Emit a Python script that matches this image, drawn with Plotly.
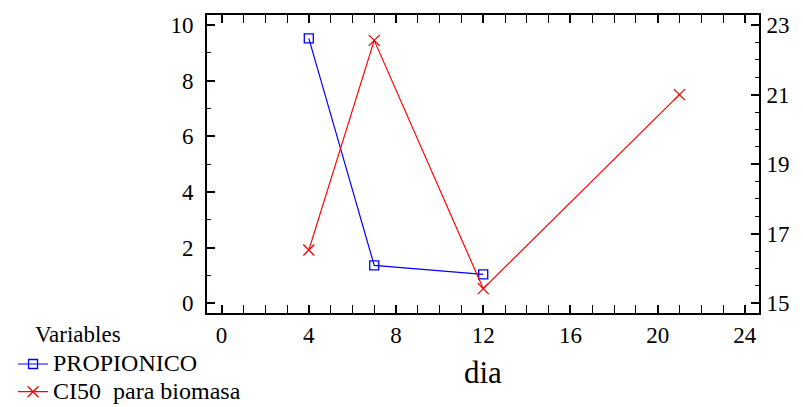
import plotly.graph_objects as go

dia = [4, 7, 12]
propionico = [9.52, 1.36, 1.04]
dia_ci = [4, 7, 12, 21]
ci50 = [16.53, 22.56, 15.42, 21.0]

x_ticks = [0, 4, 8, 12, 16, 20, 24]
y1_ticks = [0, 2, 4, 6, 8, 10]
y2_ticks = [15, 17, 19, 21, 23]

series_names = ["PROPIONICO", "CI50  para biomasa"]
x_title = "dia"
legend_title = "Variables"

FONT = "Times New Roman"
TICKFONT = dict(family=FONT, size=23, color="black")


def big(name):
    return '<span style="font-size:24px">' + name + '</span>'


fig = go.Figure()
fig.add_trace(go.Scatter(
    x=dia, y=propionico, name=big(series_names[0]), mode="lines+markers",
    line=dict(color="#0000FF", width=1.2),
    marker=dict(symbol="square-open", size=9, color="#0000FF", line=dict(width=1.3)),
))
fig.add_trace(go.Scatter(
    x=dia_ci, y=ci50, name=big(series_names[1]), mode="lines+markers", yaxis="y2",
    line=dict(color="#FF0000", width=1.2),
    marker=dict(symbol="x-thin-open", size=11, color="#FF0000", line=dict(width=1.3, color="#FF0000")),
))

axis_common = dict(
    showgrid=False, zeroline=False, showline=True, linecolor="black", linewidth=2,
    ticks="inside", ticklen=8, tickwidth=1.5, tickcolor="black",
    tickfont=TICKFONT, automargin=False,
)

fig.update_layout(
    width=803, height=407,
    margin=dict(l=207, r=44, t=15, b=94),
    paper_bgcolor="white", plot_bgcolor="white",
    font=dict(family=FONT, color="black"),
    showlegend=True,
    legend=dict(
        xref="paper", yref="container",
        x=-0.3514, y=0.152, xanchor="left", yanchor="top",
        font=dict(family=FONT, size=19, color="black"),
        bgcolor="rgba(0,0,0,0)", tracegroupgap=0, itemwidth=30,
    ),
    xaxis=dict(
        range=[-0.67, 24.65], tickvals=x_ticks, mirror="allticks",
        minor=dict(dtick=1, ticks="inside", ticklen=4, tickwidth=1.2, tickcolor="black"),
        **axis_common,
    ),
    yaxis=dict(
        range=[-0.35, 10.36], tickvals=y1_ticks, mirror=True,
        ticklabelstandoff=7,
        minor=dict(dtick=1, ticks="inside", ticklen=4, tickwidth=1.2, tickcolor="black"),
        **axis_common,
    ),
    yaxis2=dict(
        range=[14.72, 23.29], tickvals=y2_ticks, overlaying="y", side="right",
        ticklabelstandoff=1,
        minor=dict(dtick=0.5, ticks="inside", ticklen=4, tickwidth=1.2, tickcolor="black"),
        **axis_common,
    ),
    annotations=[
        dict(
            text=legend_title, xref="paper", yref="paper", x=-0.315, y=-0.0738,
            xanchor="left", yanchor="middle", showarrow=False,
            font=dict(family=FONT, size=23, color="black"),
        ),
        dict(
            text=x_title, xref="paper", yref="paper", x=0.5, y=-0.2013,
            xanchor="center", yanchor="middle", showarrow=False,
            font=dict(family=FONT, size=31, color="black"),
        ),
    ],
)

fig.write_html("out.html")
